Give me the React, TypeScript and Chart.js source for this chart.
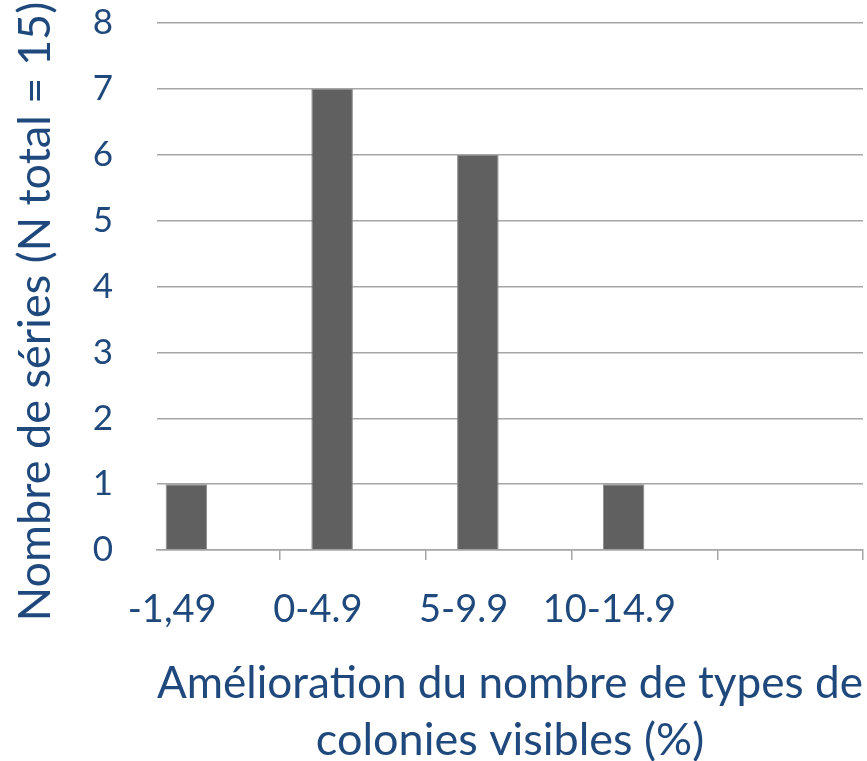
import React, { useEffect, useRef } from "react";
import { Chart, registerables } from "chart.js";

Chart.register(...registerables);

const CATEGORIES = ["-1,49", "0-4.9", "5-9.9", "10-14.9"];
const COUNTS = [1, 7, 6, 1];
const Y_TICKS_MAX = 8;
const X_TITLE = ["Amélioration du nombre de types de", "colonies visibles (%)"];
const Y_TITLE = "Nombre de séries (N total = 15)";

const TEXT = "#1F497D";
const GRID = "#a6a6a6";
const FONT = "Lato";
const X_MIN = -0.344;
const X_MAX = CATEGORIES.length + 0.5;

// Draws the y-axis title (Chart.js centres it on the plot; the reference sits a little lower)
const yTitlePlugin = {
  id: "yTitle",
  afterDraw(chart: any) {
    const { ctx, chartArea } = chart;
    ctx.save();
    ctx.translate(35, (chartArea.top + chartArea.bottom) / 2 + 25);
    ctx.rotate(-Math.PI / 2);
    ctx.font = `45px ${FONT}`;
    ctx.fillStyle = TEXT;
    ctx.textAlign = "center";
    ctx.textBaseline = "middle";
    ctx.fillText(Y_TITLE, 0, 0);
    ctx.restore();
  },
};

export default function App() {
  const ref = useRef<HTMLCanvasElement | null>(null);

  useEffect(() => {
    if (!ref.current) return;
    const chart = new Chart(ref.current, {
      type: "bar",
      data: {
        datasets: [
          {
            label: "Séries",
            data: COUNTS.map((v, i) => ({ x: i, y: v })),
            backgroundColor: "#606060",
            borderColor: "#8a8a8a",
            borderWidth: 1,
            categoryPercentage: 0.57,
            barPercentage: 1,
            xAxisID: "x",
          },
          {
            label: "",
            data: [],
            backgroundColor: "#606060",
            categoryPercentage: 0.57,
            barPercentage: 1,
            xAxisID: "x",
          },
        ],
      },
      options: {
        responsive: false,
        animation: false,
        layout: { padding: { top: 23, right: 4, left: 0, bottom: 0 } },
        plugins: {
          legend: { display: false },
          tooltip: { enabled: false },
        },
        scales: {
          x: {
            type: "linear",
            position: "bottom",
            weight: 1,
            offset: false,
            bounds: "data",
            min: X_MIN,
            max: X_MAX,
            afterBuildTicks: (scale: any) => {
              scale.ticks = Array.from({ length: CATEGORIES.length + 1 }, (_, i) => ({ value: i + 0.5 }));
            },
            grid: {
              display: true,
              offset: false,
              drawOnChartArea: false,
              drawTicks: true,
              tickLength: 10,
              color: GRID,
              lineWidth: 1.5,
            },
            border: { display: true, color: GRID, width: 1.5 },
            ticks: { display: false },
            afterFit: (scale: any) => {
              scale.height = 10;
            },
          },
          x2: {
            type: "linear",
            position: "bottom",
            weight: 2,
            offset: false,
            bounds: "data",
            min: X_MIN,
            max: X_MAX,
            afterBuildTicks: (scale: any) => {
              scale.ticks = CATEGORIES.map((_, i) => ({ value: i - 0.24 }));
            },
            grid: { display: false, drawTicks: false, offset: false },
            border: { display: false },
            ticks: {
              autoSkip: false,
              maxRotation: 0,
              padding: 27,
              color: TEXT,
              font: { family: FONT, size: 38 },
              callback: (_v: any, i: number) => CATEGORIES[i],
            },
            title: {
              display: true,
              text: X_TITLE,
              color: TEXT,
              font: { family: FONT, size: 45, lineHeight: 1.27 },
              padding: { top: 0, bottom: -8 },
            },
            afterFit: (scale: any) => {
              scale.height = 201;
              scale.paddingLeft = 0;
              scale.paddingRight = 0;
            },
          },
          y: {
            type: "linear",
            min: 0,
            max: Y_TICKS_MAX,
            grid: { color: GRID, lineWidth: 1.5, drawTicks: false },
            border: { display: false },
            ticks: {
              stepSize: 1,
              padding: 44,
              color: TEXT,
              font: { family: FONT, size: 35 },
            },
            title: { display: false },
            afterFit: (scale: any) => {
              scale.width = 157;
              scale.paddingTop = 0;
              scale.paddingBottom = 0;
            },
          },
        },
      },
      plugins: [yTitlePlugin],
    });
    return () => chart.destroy();
  }, []);

  return (
    <div style={{ position: "absolute", left: 0, top: 0, width: 867, height: 761, background: "#fff" }}>
      <canvas ref={ref} width={867} height={761} style={{ display: "block" }} />
    </div>
  );
}
